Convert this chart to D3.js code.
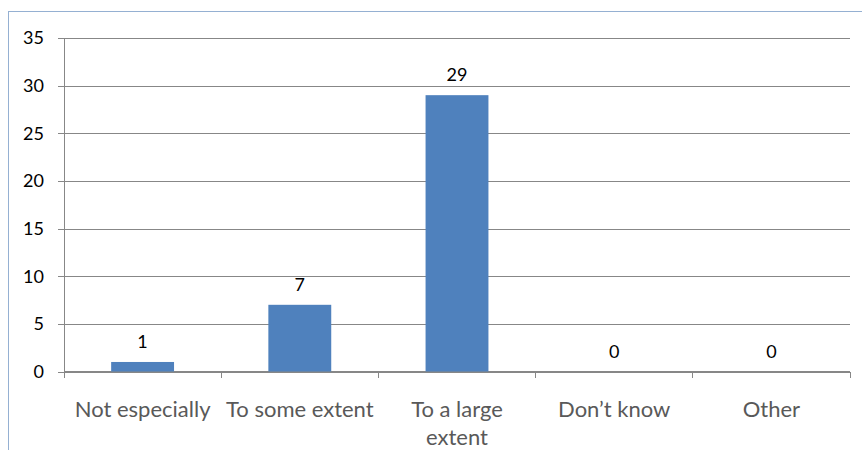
<!DOCTYPE html>
<html>
<head>
<meta charset="utf-8">
<script src="https://cdn.jsdelivr.net/npm/d3@7/dist/d3.min.js"></script>
<style>
  html, body { margin: 0; padding: 0; background: #ffffff; }
  svg { display: block; }
  text { font-family: Lato, "Open Sans", sans-serif; }
</style>
</head>
<body>
<svg id="chart" width="862" height="450"></svg>
<script>
// Responses per answer option
const categories = ["Not especially", "To some extent", "To a large extent", "Don\u2019t know", "Other"];
const counts = [1, 7, 29, 0, 0];
const yTicks = [0, 5, 10, 15, 20, 25, 30, 35];

const svg = d3.select("#chart");
const W = 862, H = 450;
const plot = { left: 64, right: 850, top: 38, bottom: 371.5 };

// Chart-area frame (its right and bottom edges fall outside the view)
svg.append("rect")
  .attr("x", 8.5).attr("y", 11.5)
  .attr("width", W).attr("height", H)
  .attr("fill", "none")
  .attr("stroke", "#95B0D2")
  .attr("stroke-width", 1);

const x = d3.scaleBand().domain(categories).range([plot.left, plot.right]).padding(0);
const y = d3.scaleLinear().domain([0, 35]).range([plot.bottom, plot.top]);

// Horizontal gridlines with their left tick stubs
const yAxis = d3.axisLeft(y)
  .tickValues(yTicks)
  .tickSize(-(plot.right - plot.left))
  .tickSizeOuter(0)
  .tickPadding(0)
  .tickFormat("");
const gy = svg.append("g").attr("transform", `translate(${plot.left},0)`).call(yAxis);
gy.select(".domain").remove();
gy.selectAll(".tick line")
  .attr("x1", -6)
  .attr("stroke", "#878787")
  .attr("shape-rendering", "crispEdges");

// Vertical value axis line
svg.append("line")
  .attr("x1", plot.left).attr("x2", plot.left)
  .attr("y1", y(35)).attr("y2", y(0))
  .attr("stroke", "#878787")
  .attr("shape-rendering", "crispEdges");

// Y tick labels
svg.append("g").selectAll("text")
  .data(yTicks)
  .join("text")
  .attr("x", 44)
  .attr("y", d => y(d))
  .attr("dy", "0.36em")
  .attr("text-anchor", "end")
  .attr("font-size", 18)
  .attr("fill", "#000")
  .text(d => d);

// Category axis with boundary ticks
const boundaries = categories.map(c => x(c)).concat([plot.right]);
svg.append("line")
  .attr("x1", plot.left).attr("x2", plot.right)
  .attr("y1", y(0)).attr("y2", y(0))
  .attr("stroke", "#878787")
  .attr("shape-rendering", "crispEdges");
svg.append("g").selectAll("line")
  .data(boundaries)
  .join("line")
  .attr("x1", d => d).attr("x2", d => d)
  .attr("y1", y(0)).attr("y2", y(0) + 6)
  .attr("stroke", "#878787")
  .attr("shape-rendering", "crispEdges");

// Bars
const barW = x.bandwidth() * 0.4;
svg.append("g").selectAll("rect")
  .data(categories)
  .join("rect")
  .attr("x", (c) => x(c) + (x.bandwidth() - barW) / 2)
  .attr("y", (c, i) => y(counts[i]))
  .attr("width", barW)
  .attr("height", (c, i) => y(0) - y(counts[i]))
  .attr("fill", "#4F81BD");

// Value labels above bars
svg.append("g").selectAll("text")
  .data(categories)
  .join("text")
  .attr("x", c => x(c) + x.bandwidth() / 2)
  .attr("y", (c, i) => y(counts[i]) - 14)
  .attr("text-anchor", "middle")
  .attr("font-size", 18)
  .attr("fill", "#000")
  .text((c, i) => counts[i]);

// Category labels, wrapped to the band width
const catLabels = svg.append("g").selectAll("text")
  .data(categories)
  .join("text")
  .attr("x", c => x(c) + x.bandwidth() / 2)
  .attr("y", 417)
  .attr("text-anchor", "middle")
  .attr("font-size", 22)
  .attr("fill", "#595959");

catLabels.each(function (c) {
  const t = d3.select(this);
  const cx = +t.attr("x");
  const words = c.split(" ");
  const maxW = x.bandwidth();
  let line = [];
  let tspan = t.append("tspan").attr("x", cx).attr("dy", 0);
  words.forEach(w => {
    line.push(w);
    tspan.text(line.join(" "));
    if (tspan.node().getComputedTextLength() > maxW && line.length > 1) {
      line.pop();
      tspan.text(line.join(" "));
      line = [w];
      tspan = t.append("tspan").attr("x", cx).attr("dy", 28).text(w);
    }
  });
});
</script>
</body>
</html>
